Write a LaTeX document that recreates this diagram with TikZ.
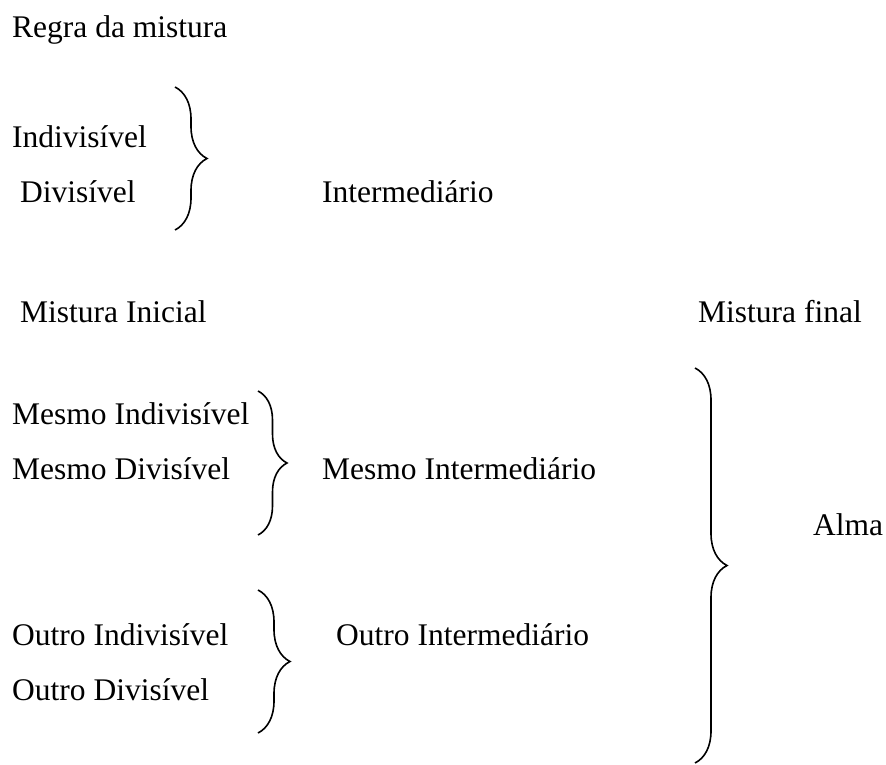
\documentclass[tikz,border=0pt]{standalone}
\usepackage{fontspec}
\setmainfont{Liberation Serif}
\usetikzlibrary{decorations.pathreplacing}
\tikzset{
  rotulo/.style={anchor=base west, inner sep=0pt, font=\fontsize{31.5}{38}\selectfont},
  chave/.style={decorate, decoration={brace, amplitude=#1}, line width=1.6pt},
  chave/.default=32pt
}

\begin{document}
\begin{tikzpicture}[x=1pt, y=-1pt]
      \useasboundingbox (0,0) rectangle (886,765);
%      \draw [help lines, step=50] (0,0) grid (886,765);
      \node [rotulo] (titulo) at (12,38) {Regra da mistura};

      %% primeira chave
      \node [rotulo] (indiv) at (12,148) {Indivisível};
      \node [rotulo] (div) at (20,202) {Divisível};
      \node [rotulo] (inter) at (322,202) {Intermediário};
      \draw [chave] (175,87) -- (175,230);

      \node [rotulo] (inicial) at (20,322) {Mistura Inicial};
      \node [rotulo] (final) at (698,322) {Mistura final};

      %% mesmo
      \node [rotulo] (mindiv) at (12,424) {Mesmo Indivisível};
      \node [rotulo] (mdiv) at (12,479) {Mesmo Divisível};
      \node [rotulo] (minter) at (322,479) {Mesmo Intermediário};
      \draw [chave=29pt] (258,391) -- (258,535);

      %% outro
      \node [rotulo] (oindiv) at (12,645) {Outro Indivisível};
      \node [rotulo] (odiv) at (12,700) {Outro Divisível};
      \node [rotulo] (ointer) at (336,645) {Outro Intermediário};
      \draw [chave] (258,590) -- (258,733);

      %% alma
      \draw [chave] (695,368) -- (695,763);
      \node [rotulo] (alma) at (813,535) {Alma};
    \end{tikzpicture}
\end{document}
